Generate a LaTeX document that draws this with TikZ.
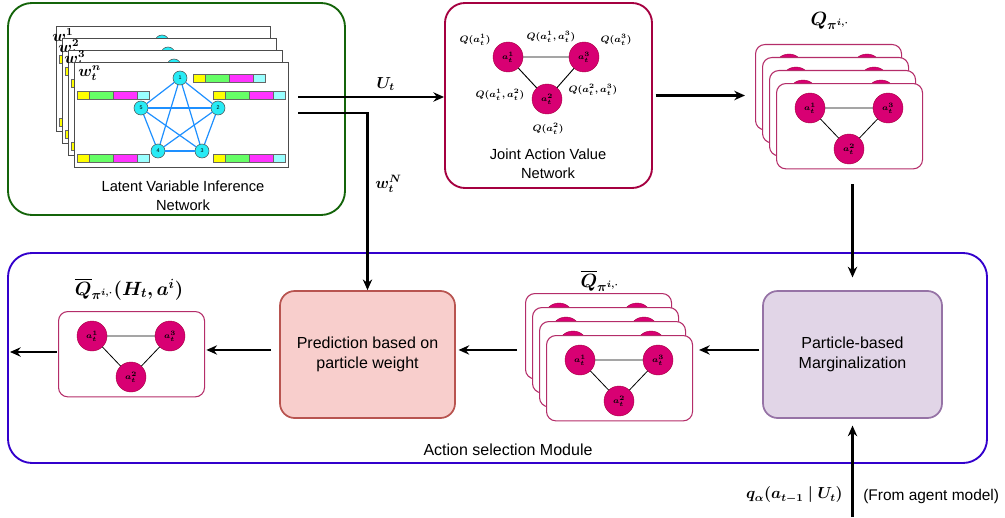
\documentclass[tikz,border=0pt]{standalone}
\usepackage{amsmath,bm}
\usepackage{fontspec}
\setmainfont{Liberation Sans}
\usetikzlibrary{arrows.meta,positioning}

\definecolor{lvgreen}{RGB}{20,100,10}
\definecolor{javred}{RGB}{165,0,64}
\definecolor{agentpink}{RGB}{216,0,115}
\definecolor{cardline}{RGB}{180,45,105}
\definecolor{modblue}{RGB}{51,0,204}
\definecolor{predfill}{RGB}{248,206,204}
\definecolor{predline}{RGB}{184,84,80}
\definecolor{margfill}{RGB}{225,213,231}
\definecolor{margline}{RGB}{150,115,166}
\definecolor{edgeblue}{RGB}{30,144,255}
\definecolor{nodecyan}{RGB}{40,235,245}
\definecolor{barY}{RGB}{255,255,0}
\definecolor{barG}{RGB}{102,255,102}
\definecolor{barM}{RGB}{255,51,255}
\definecolor{barC}{RGB}{153,255,255}

\tikzset{
  txt/.style={font=\fontsize{11}{14}\selectfont, align=center, inner sep=0pt},
  bigtxt/.style={font=\fontsize{12}{14.5}\selectfont, align=center, inner sep=0pt},
  mlab/.style={font=\fontsize{12}{12}\selectfont, inner sep=0pt},
  qsmall/.style={font=\fontsize{7}{8}\selectfont, inner sep=0pt},
  flow/.style={-{Stealth[length=8pt,width=7pt]}, line width=1.7pt},
  bigbox/.style={rectangle, rounded corners=18pt, line width=1.4pt},
  stepbox/.style={rectangle, rounded corners=11pt, line width=1.3pt},
  agent/.style={circle, fill=agentpink, draw=javred, line width=0.3pt,
    minimum size=22.5pt, inner sep=0pt, font=\fontsize{6}{6}\selectfont},
  card/.style={rectangle, draw=cardline, fill=white, rounded corners=7pt,
    line width=0.8pt, minimum width=109.5pt, minimum height=64pt,
    anchor=north west, inner sep=0pt},
  lvframe/.style={rectangle, draw=black!70, fill=white, line width=0.6pt,
    minimum width=160.5pt, minimum height=78.75pt, anchor=north west, inner sep=0pt},
  pnode/.style={circle, fill=nodecyan, draw=black!70, line width=0.4pt,
    minimum size=10.5pt, inner sep=0pt, font=\fontsize{4}{4}\selectfont},
  tricard/.pic={
    \node[card] (-box) at (0,0) {};
    \node[agent] (-a1) at (34,25) {$\bm{a_t^1}$};
    \node[agent] (-a3) at (112,25) {$\bm{a_t^3}$};
    \node[agent] (-a2) at (73,66) {$\bm{a_t^2}$};
    \draw[line width=0.6pt] (-a1) -- (-a3) (-a1) -- (-a2) (-a3) -- (-a2);
  },
  latframe/.pic={
    \node[lvframe] (-box) at (0,0) {};
    % colour bars
    \foreach \bx/\by in {119/12, 3/29, 139/29, 3/92, 139/92} {
      \filldraw[fill=barY, draw=black!60, line width=0.3pt] (\bx,\by) rectangle ++(12,8);
      \filldraw[fill=barG, draw=black!60, line width=0.3pt] (\bx+12,\by) rectangle ++(24,8);
      \filldraw[fill=barM, draw=black!60, line width=0.3pt] (\bx+36,\by) rectangle ++(24,8);
      \filldraw[fill=barC, draw=black!60, line width=0.3pt] (\bx+60,\by) rectangle ++(12,8);
    }
    \node[pnode] (-p1) at (106,16) {1};
    \node[pnode] (-p2) at (144,46) {2};
    \node[pnode] (-p3) at (128,89) {3};
    \node[pnode] (-p4) at (84,89) {4};
    \node[pnode] (-p5) at (67,46) {5};
    \foreach \i/\j in {1/2,1/3,1/4,1/5,2/3,2/4,2/5,3/4,3/5,4/5}
      \draw[edgeblue, line width=0.9pt] (-p\i) -- (-p\j);
  }
}

\begin{document}
\begin{tikzpicture}[x=0.75pt,y=-0.75pt]
\useasboundingbox (0,0) rectangle (1005,517);

% outer boxes
\node[bigbox, draw=lvgreen, minimum width=252.75pt, minimum height=159pt] (lvin) at (176.5,109) {};
\node[bigbox, draw=modblue, minimum width=734.25pt, minimum height=157.5pt] (module) at (497.5,358) {};
\node[bigbox, draw=javred, rounded corners=15pt, minimum width=155.25pt, minimum height=138.75pt] (jav) at (548.5,95.5) {};

% latent variable inference network
\foreach \k/\lab in {0/1,1/2,2/3} {
  \pic (f\k) at (56+6*\k,26+12*\k) {latframe};
  \node[mlab, anchor=west] at (52+6*\k,37+11*\k) {$\bm{w_t^{\lab}}$};
}
\pic (f3) at (74,62) {latframe};
\node[mlab, anchor=west] at (78,73) {$\bm{w_t^{n}}$};
\node[txt] (lvtext) at (183,196) {Latent Variable Inference\\Network};

% joint action value network
\node[agent] (j1) at (508,57) {$\bm{a_t^1}$};
\node[agent] (j3) at (584,57) {$\bm{a_t^3}$};
\node[agent] (j2) at (547,99) {$\bm{a_t^2}$};
\draw[line width=0.7pt] (j1) -- (j3) (j1) -- (j2) (j3) -- (j2);
\node[qsmall] at (475,40) {$\bm{Q(a_t^1)}$};
\node[qsmall] at (551,37) {$\bm{Q(a_t^1,a_t^3)}$};
\node[qsmall] at (616,40) {$\bm{Q(a_t^3)}$};
\node[qsmall] at (500,95) {$\bm{Q(a_t^1,a_t^2)}$};
\node[qsmall] at (593,90) {$\bm{Q(a_t^2,a_t^3)}$};
\node[qsmall] at (548,129) {$\bm{Q(a_t^2)}$};
\node[txt] (javtext) at (548,164) {Joint Action Value\\Network};

% Q stack
\foreach \k in {0,...,3}
  \pic (q\k) at (755+7*\k,44+13*\k) {tricard};
\node[mlab, font=\fontsize{14}{14}\selectfont] (qlab) at (830,21) {$\bm{Q_{\pi^{i,\cdot}}}$};

% action selection module
\node[stepbox, draw=margline, fill=margfill, minimum width=134.25pt, minimum height=95.25pt] (marg) at (852.5,354.5) {};
\node[bigtxt] at (marg) {Particle-based\\Marginalization};
\node[stepbox, draw=predline, fill=predfill, minimum width=131.25pt, minimum height=95.25pt] (pred) at (367.5,354.5) {};
\node[bigtxt] at (pred) {Prediction based on\\particle weight};
\foreach \k in {0,...,3}
  \pic (m\k) at (525+7*\k,293+14*\k) {tricard};
\node[mlab, font=\fontsize{14}{14}\selectfont] (mlab) at (600,281) {$\overline{\bm{Q}}_{\bm{\pi^{i,\cdot}}}$};
\pic (qbar) at (58,311) {tricard};
\node[mlab, font=\fontsize{14}{14}\selectfont] (qbarlab) at (129,289) {$\overline{\bm{Q}}_{\bm{\pi^{i,\cdot}}}\bm{(H_t,a^i)}$};
\node[bigtxt] (modtext) at (508,450) {Action selection Module};

% connectors
\coordinate (ut0) at (298,97);
\coordinate (wn0) at (298,113);
\draw[flow] (ut0) -- (ut0 -| jav.west) node[pos=0.6, above=4pt, mlab] {$\bm{U_t}$};
\draw[flow] (wn0) -| (pred.north) node[pos=0.7, right=5pt, mlab] {$\bm{w_t^N}$};
\draw[flow, shorten <=2pt, shorten >=7.5pt] (jav.east) -- (jav.east -| q0-box.west);
\draw[flow, shorten <=11pt, shorten >=9.5pt] (marg.north |- q3-box.south) -- (marg.north);
\coordinate (margout) at ([yshift=3.4pt]marg.west);
\draw[flow, shorten <=2pt, shorten >=4.5pt] (margout) -- (margout -| m3-box.east);
\coordinate (predin) at ([yshift=3.4pt]pred.east);
\draw[flow, shorten <=6pt, shorten >=2pt] (predin -| m0-box.west) -- (predin);
\coordinate (predout) at ([yshift=3.4pt]pred.west);
\draw[flow, shorten <=6pt, shorten >=1pt] (predout) -- (predout -| qbar-box.east);
\coordinate (exit) at (10,352);
\draw[flow, shorten <=1pt] (exit -| qbar-box.west) -- (exit);
\coordinate (src) at (852.5,517);
\draw[flow, shorten >=5pt] (src) -- (marg.south);
\node[mlab, anchor=east] (qalpha) at (843,495) {$\bm{q_\alpha(a_{t-1}\mid U_t)}$};
\node[txt, font=\fontsize{11.6}{14}\selectfont, anchor=west] (agentsrc) at (863,496) {(From agent model)};
\end{tikzpicture}
\end{document}
